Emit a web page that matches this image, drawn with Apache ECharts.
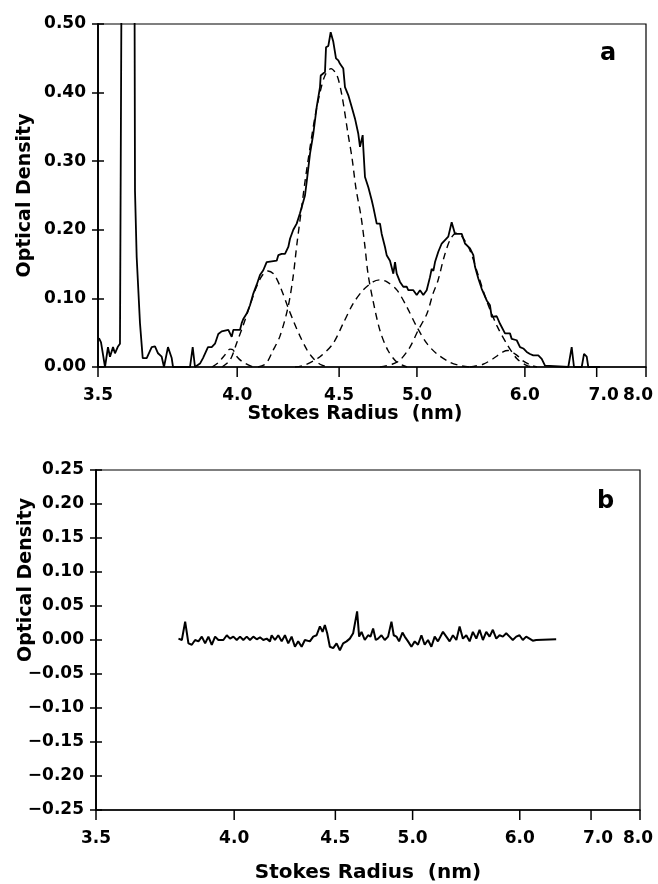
<!DOCTYPE html>
<html>
<head>
<meta charset="utf-8">
<script src="https://cdn.jsdelivr.net/npm/echarts@6/dist/echarts.min.js"></script>
<style>
html,body{margin:0;padding:0;background:#fff;}
#chart{width:658px;height:884px;}
</style>
</head>
<body>
<div id="chart"></div>
<script>
// Elution-position scale (0-100) on which Stokes radius ticks sit
const tickPos = [0, 25.4, 44.0, 58.2, 77.9, 91.0, 100];
const tickLabels = ['3.5', '4.0', '4.5', '5.0', '6.0', '7.0', '8.0'];

// Panel a: measured profile [position, OD]
const profileA = [[0.18,0.042],[0.55,0.036],[1.28,0.0],[1.82,0.029],[2.19,0.015],[2.74,0.029],[3.10,0.020],[3.65,0.030],[4.01,0.034],[4.29,0.036],[4.47,0.9],[5.47,1.5],[6.57,0.9],[6.75,0.257],[7.06,0.16],[7.66,0.064],[8.16,0.013],[8.89,0.013],[9.80,0.029],[10.40,0.030],[10.95,0.020],[11.62,0.015],[12.04,0.0],[12.77,0.029],[13.45,0.013],[13.69,0.0],[16.79,0.0],[17.28,0.029],[17.70,0.0],[18.61,0.005],[19.16,0.013],[20.07,0.029],[20.75,0.029],[21.35,0.034],[21.95,0.048],[22.57,0.052],[23.78,0.054],[24.40,0.044],[24.69,0.054],[25.91,0.054],[26.22,0.064],[26.51,0.070],[27.14,0.078],[27.74,0.090],[28.34,0.107],[28.96,0.120],[29.56,0.134],[30.16,0.141],[30.5,0.141],[30.78,0.153],[32.61,0.155],[32.90,0.163],[33.52,0.165],[34.12,0.165],[34.73,0.175],[35.04,0.187],[35.64,0.200],[36.26,0.209],[36.86,0.224],[37.17,0.233],[37.77,0.250],[38.08,0.270],[38.69,0.311],[39.29,0.340],[39.91,0.379],[40.51,0.408],[40.64,0.425],[41.42,0.430],[41.61,0.466],[42.03,0.468],[42.46,0.488],[42.94,0.474],[43.43,0.450],[43.85,0.447],[44.16,0.442],[44.76,0.435],[45.07,0.408],[45.68,0.396],[46.30,0.379],[46.90,0.362],[47.50,0.340],[47.81,0.321],[48.30,0.338],[48.41,0.320],[48.72,0.277],[49.33,0.262],[49.95,0.243],[50.24,0.233],[50.86,0.209],[51.46,0.209],[51.77,0.194],[52.37,0.175],[52.68,0.163],[53.28,0.155],[53.89,0.136],[54.20,0.153],[54.51,0.136],[55.11,0.124],[55.71,0.117],[56.33,0.117],[56.62,0.112],[57.54,0.112],[58.16,0.105],[58.76,0.112],[59.36,0.105],[59.98,0.112],[60.58,0.131],[60.89,0.143],[61.2,0.140],[61.50,0.153],[62.10,0.168],[62.72,0.180],[63.32,0.185],[63.92,0.190],[64.54,0.211],[65.15,0.194],[66.37,0.194],[66.97,0.180],[67.88,0.173],[68.49,0.163],[68.80,0.146],[69.40,0.129],[70.02,0.114],[70.93,0.097],[71.53,0.090],[71.84,0.073],[72.76,0.074],[73.36,0.063],[74.27,0.049],[75.18,0.049],[75.49,0.041],[76.41,0.039],[77.01,0.029],[77.61,0.027],[78.23,0.022],[78.83,0.019],[79.43,0.017],[80.35,0.017],[80.97,0.012],[81.57,0.002],[81.88,0.0],[85.82,0.0],[86.44,0.029],[86.86,0.0],[88.27,0.0],[88.69,0.019],[89.18,0.015],[89.47,0.0],[91.61,0.0]];

// Panel a: fitted components (dashed)
const comp0 = [[20.80,0],[21.90,0.006],[22.99,0.016],[24.09,0.026],[24.64,0.025],[25.36,0.015],[26.46,0.007],[28.28,0]];
const comp1 = [[22.63,0],[24.09,0.01],[25.36,0.036],[26.46,0.06],[27.74,0.09],[28.83,0.115],[29.93,0.133],[31.02,0.14],[32.12,0.135],[33.21,0.118],[34.67,0.087],[35.77,0.065],[36.86,0.045],[38.14,0.025],[39.23,0.013],[40.51,0.004],[41.97,0]];
const comp2 = [[29.20,0],[30.66,0.005],[31.93,0.024],[33.21,0.045],[34.67,0.087],[35.58,0.13],[36.31,0.18],[37.04,0.225],[37.77,0.27],[38.69,0.32],[39.60,0.365],[40.51,0.40],[41.42,0.425],[42.52,0.435],[43.61,0.425],[44.53,0.395],[45.62,0.34],[46.35,0.305],[47.08,0.26],[47.99,0.22],[48.72,0.175],[49.27,0.136],[50.18,0.097],[51.46,0.053],[52.92,0.024],[54.56,0.007],[56.39,0]];
const comp3 = [[35.95,0],[37.77,0.003],[40.51,0.015],[42.88,0.034],[44.71,0.063],[46.53,0.092],[48.36,0.112],[50.18,0.124],[51.46,0.127],[52.74,0.124],[54.56,0.112],[56.39,0.087],[58.21,0.058],[60.04,0.034],[61.86,0.019],[64.23,0.007],[66.06,0.002],[67.88,0]];
const comp4 = [[51.46,0],[53.65,0.004],[55.11,0.01],[56.93,0.029],[58.39,0.053],[60.04,0.078],[61.13,0.107],[62.04,0.126],[63.14,0.16],[64.23,0.185],[65.33,0.195],[66.42,0.19],[67.88,0.17],[69.34,0.135],[70.99,0.095],[72.81,0.06],[74.64,0.033],[76.46,0.012],[78.28,0.002],[79.74,0]];
const comp5 = [[67.88,0],[70.26,0.004],[72.08,0.012],[73.91,0.022],[74.82,0.024],[76.46,0.017],[77.55,0.009],[79.20,0.002],[80.11,0]];

// Panel b: residuals [position, OD]
const residualB = [[15.16,0.002],[15.78,0],[16.39,0.027],[16.99,-0.005],[17.61,-0.007],[18.22,0],[18.83,-0.002],[19.45,0.005],[20.06,-0.005],[20.66,0.005],[21.28,-0.007],[21.89,0.005],[22.50,0],[23.41,0],[24.04,0.007],[24.64,0.002],[25.25,0.005],[25.87,0],[26.48,0.005],[27.08,0],[27.71,0.005],[28.31,0],[28.92,0.005],[29.54,0.001],[30.15,0.004],[30.75,0],[31.38,0.002],[31.98,-0.002],[32.29,0.007],[32.90,0],[33.50,0.007],[34.13,-0.002],[34.73,0.007],[35.34,-0.005],[35.96,0.005],[36.57,-0.01],[37.17,-0.002],[37.80,-0.01],[38.40,0],[39.32,-0.002],[39.93,0.005],[40.55,0.007],[41.16,0.02],[41.65,0.012],[42.07,0.022],[42.50,0.01],[42.99,-0.01],[43.60,-0.012],[44.22,-0.005],[44.83,-0.015],[45.43,-0.005],[46.06,-0.002],[46.66,0.002],[47.27,0.01],[47.63,0.012],[48.00,0.042],[48.37,0.005],[48.81,0.012],[49.41,0],[50.02,0.007],[50.46,0.005],[50.94,0.017],[51.43,0],[51.85,0.002],[52.48,0.007],[53.08,0],[53.69,0.005],[54.31,0.027],[54.73,0.007],[55.23,0.005],[55.71,-0.002],[56.33,0.011],[56.75,0.005],[57.36,-0.002],[57.98,-0.01],[58.59,-0.002],[59.19,-0.007],[59.82,0.007],[60.42,-0.007],[61.03,0],[61.65,-0.01],[62.26,0.005],[62.86,-0.002],[63.78,0.012],[64.40,0.005],[65.01,-0.002],[65.61,0.007],[66.24,0],[66.84,0.02],[67.45,0.002],[68.07,0.007],[68.68,-0.002],[69.28,0.012],[69.91,0.002],[70.51,0.015],[71.12,0],[71.74,0.012],[72.35,0.005],[72.95,0.015],[73.58,0.002],[74.18,0.007],[74.79,0.005],[75.41,0.01],[76.02,0.005],[76.62,0],[77.25,0.005],[77.85,0.007],[78.46,0],[79.08,0.005],[79.69,0.002],[80.29,-0.001],[80.92,0],[84.59,0.001]];

const FONT = 'DejaVu Sans';
const TXT = {fontFamily: FONT, fontWeight: 'bold', fontSize: 17, color: '#000'};
function labelFmt(v) {
  const i = tickPos.findIndex(p => Math.abs(p - v) < 1e-6);
  if (i < 0) return '';
  if (i === 5) return '{r|' + tickLabels[i] + '}';
  if (i === 6) return '{l|' + tickLabels[i] + '}';
  return '{c|' + tickLabels[i] + '}';
}
// 7.0 and 8.0 labels sit nudged toward each other in the original
function richFor(shift7, shift8) {
  return {
    c: Object.assign({}, TXT),
    r: Object.assign({}, TXT, {padding: [0, 0, 0, shift7]}),
    l: Object.assign({}, TXT, {padding: [0, shift8, 0, 0]})
  };
}
const yFmt = v => {
  const s = Math.abs(v) < 1e-9 ? '0.00' : v.toFixed(2);
  return s.replace('-', '\u2212');
};

function xAxisCfg(gridIndex, nameGap, namePad, nameSize, shift7, shift8) {
  return {
    type: 'value', gridIndex, min: 0, max: 100,
    name: 'Stokes Radius  (nm)', nameLocation: 'middle', nameGap, nameMoveOverlap: false,
    nameTextStyle: {fontFamily: FONT, fontWeight: 'bold', fontSize: nameSize, color: '#000', padding: namePad},
    axisLine: {show: true, onZero: false, lineStyle: {color: '#000', width: 1.5}},
    axisTick: {show: false},
    axisLabel: {show: true, customValues: tickPos, formatter: labelFmt, margin: 20,
      showMinLabel: true, showMaxLabel: true, hideOverlap: false,
      rich: richFor(shift7, shift8)},
    splitLine: {show: false}
  };
}
function yAxisCfg(gridIndex, min, max, interval, nameGap, namePad, withLabels) {
  return {
    type: 'value', gridIndex, min, max, interval, position: 'left', offset: 0,
    name: withLabels ? 'Optical Density' : '', nameLocation: 'middle', nameGap, nameMoveOverlap: false,
    nameTextStyle: {fontFamily: FONT, fontWeight: 'bold', fontSize: 19, color: '#000', padding: namePad},
    axisLine: {show: true, onZero: false, lineStyle: {color: '#000', width: 1.5}},
    axisTick: {show: true, inside: !withLabels, length: 6, lineStyle: {color: '#000', width: 1.5}},
    axisLabel: Object.assign({show: withLabels, formatter: yFmt, margin: 12, showMinLabel: true, showMaxLabel: true}, TXT),
    splitLine: {show: false}
  };
}

// x ticks placed at tickPos through the axis scale
const xTicks = (gi, yMin) => ({
  type: 'custom', xAxisIndex: gi, yAxisIndex: gi * 2, silent: true, clip: false, z: 5,
  data: tickPos.map(v => [v, yMin]),
  renderItem: (params, api) => {
    const p = api.coord([api.value(0), api.value(1)]);
    return {type: 'line', shape: {x1: p[0], y1: p[1], x2: p[0], y2: p[1] + 10},
      style: {stroke: '#000', lineWidth: 1.5}};
  }
});

const solid = (data, xi, w) => ({type: 'line', xAxisIndex: xi, yAxisIndex: xi * 2, data, showSymbol: false,
  lineStyle: {color: '#000', width: w}, clip: true, z: 3});
const dashed = data => ({type: 'line', xAxisIndex: 0, yAxisIndex: 0, data, showSymbol: false, smooth: 0.3,
  lineStyle: {color: '#000', width: 1.4, type: [7, 5]}, clip: true, z: 2});

const chart = echarts.init(document.getElementById('chart'), null, {renderer: 'canvas'});
chart.setOption({
  animation: false,
  backgroundColor: '#fff',
  title: [
    {text: 'a', left: 600, top: 42, padding: 0, textStyle: {fontFamily: FONT, fontWeight: 'bold', fontSize: 24, color: '#000'}},
    {text: 'b', left: 597, top: 490, padding: 0, textStyle: {fontFamily: FONT, fontWeight: 'bold', fontSize: 24, color: '#000'}}
  ],
  grid: [
    {left: 98, top: 24, width: 548, height: 343, show: true, borderColor: '#000', borderWidth: 1.2, outerBoundsMode: 'none', containLabel: false},
    {left: 96, top: 470, width: 544, height: 340, show: true, borderColor: '#000', borderWidth: 1.2, outerBoundsMode: 'none', containLabel: false}
  ],
  xAxis: [xAxisCfg(0, 38, [0, 34, 0, 0], 19, 14, 16), xAxisCfg(1, 53, [0, 0, 0, 0], 20, 14, 4)],
  yAxis: [
    yAxisCfg(0, 0, 0.5, 0.1, 63, [0, 0, 0, 0], true),
    yAxisCfg(0, 0, 0.5, 0.1, 63, [0, 0, 0, 0], false),
    yAxisCfg(1, -0.25, 0.25, 0.05, 60, [0, 0, 0, 120], true),
    yAxisCfg(1, -0.25, 0.25, 0.05, 60, [0, 0, 0, 120], false)
  ],
  series: [
    solid(profileA, 0, 1.8),
    dashed(comp0), dashed(comp1), dashed(comp2), dashed(comp3), dashed(comp4), dashed(comp5),
    solid(residualB, 1, 2),
    xTicks(0, 0), xTicks(1, -0.25)
  ]
});
</script>
</body>
</html>
